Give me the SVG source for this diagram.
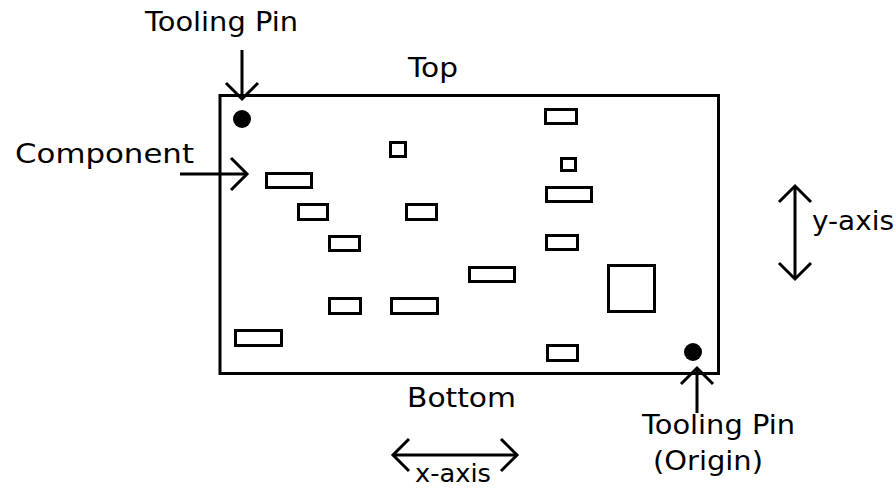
<svg xmlns="http://www.w3.org/2000/svg" width="896" height="489" viewBox="0 0 896 489">
<style>
.lbl{font-family:"DejaVu Sans","Liberation Sans",sans-serif;font-size:27px;fill:#000}
.board{fill:#fff;stroke:#000;stroke-width:3}
.comp{fill:#fff;stroke:#000;stroke-width:3}
.pin{fill:#000}
.conn{fill:none;stroke:#000;stroke-width:3}
</style>
<defs>
<marker id="chev" markerUnits="userSpaceOnUse" markerWidth="40" markerHeight="40" viewBox="-20 -20 40 40" refX="0" refY="0" orient="auto-start-reverse" overflow="visible">
<path d="M-16,-16 L0,0 L-16,16" fill="none" stroke="#000" stroke-width="3" stroke-linejoin="miter"/>
</marker>
</defs>
<rect width="896" height="489" fill="#fff"/>
<g id="board"><rect class="board" x="220" y="95.5" width="498.5" height="278"/></g>
<g id="pin-top-left"><circle class="pin" cx="242" cy="119" r="9"/></g>
<g id="pin-origin"><circle class="pin" cx="693" cy="352" r="9"/></g>
<g id="c1"><rect class="comp" x="390.5" y="142.5" width="15" height="14"/></g>
<g id="c2"><rect class="comp" x="266.5" y="173.5" width="45" height="14"/></g>
<g id="c3"><rect class="comp" x="298.5" y="204.5" width="29" height="15"/></g>
<g id="c4"><rect class="comp" x="406.5" y="204.5" width="30" height="15"/></g>
<g id="c5"><rect class="comp" x="329.5" y="236.5" width="30" height="14"/></g>
<g id="c6"><rect class="comp" x="469.5" y="267.5" width="45" height="14"/></g>
<g id="c7"><rect class="comp" x="329.5" y="298.5" width="31" height="15"/></g>
<g id="c8"><rect class="comp" x="391.5" y="298.5" width="46" height="15"/></g>
<g id="c9"><rect class="comp" x="235.5" y="330.5" width="46" height="15"/></g>
<g id="c10"><rect class="comp" x="545.5" y="109.5" width="31" height="14"/></g>
<g id="c11"><rect class="comp" x="561.5" y="158.5" width="14" height="12"/></g>
<g id="c12"><rect class="comp" x="546.5" y="187.5" width="45" height="14"/></g>
<g id="c13"><rect class="comp" x="546.5" y="235.5" width="31" height="14"/></g>
<g id="c14"><rect class="comp" x="608.5" y="265.5" width="46" height="46"/></g>
<g id="c15"><rect class="comp" x="547.5" y="345.5" width="30" height="15"/></g>
<g id="connectors">
<path class="conn" d="M242,50 L242,99" marker-end="url(#chev)"/>
<path class="conn" d="M180,174 L247,174" marker-end="url(#chev)"/>
<path class="conn" d="M697,413 L697,368" marker-end="url(#chev)"/>
<path class="conn" d="M393,455 L517,455" marker-start="url(#chev)" marker-end="url(#chev)"/>
<path class="conn" d="M795,186 L795,279" marker-start="url(#chev)" marker-end="url(#chev)"/>
</g>
<g id="labels">
<text class="lbl" x="145" y="31" textLength="153" lengthAdjust="spacingAndGlyphs">Tooling Pin</text>
<text class="lbl" x="408" y="77" textLength="50" lengthAdjust="spacingAndGlyphs">Top</text>
<text class="lbl" x="15" y="163" textLength="179" lengthAdjust="spacingAndGlyphs">Component</text>
<text class="lbl" x="407" y="407" textLength="109" lengthAdjust="spacingAndGlyphs">Bottom</text>
<text class="lbl" x="642" y="434" textLength="153" lengthAdjust="spacingAndGlyphs">Tooling Pin</text>
<text class="lbl" x="653" y="470" textLength="110" lengthAdjust="spacingAndGlyphs">(Origin)</text>
<text class="lbl" x="415" y="482" textLength="76" lengthAdjust="spacingAndGlyphs" style="font-size:25px">x-axis</text>
<text class="lbl" x="812" y="230" textLength="82" lengthAdjust="spacingAndGlyphs">y-axis</text>
</g>
</svg>
